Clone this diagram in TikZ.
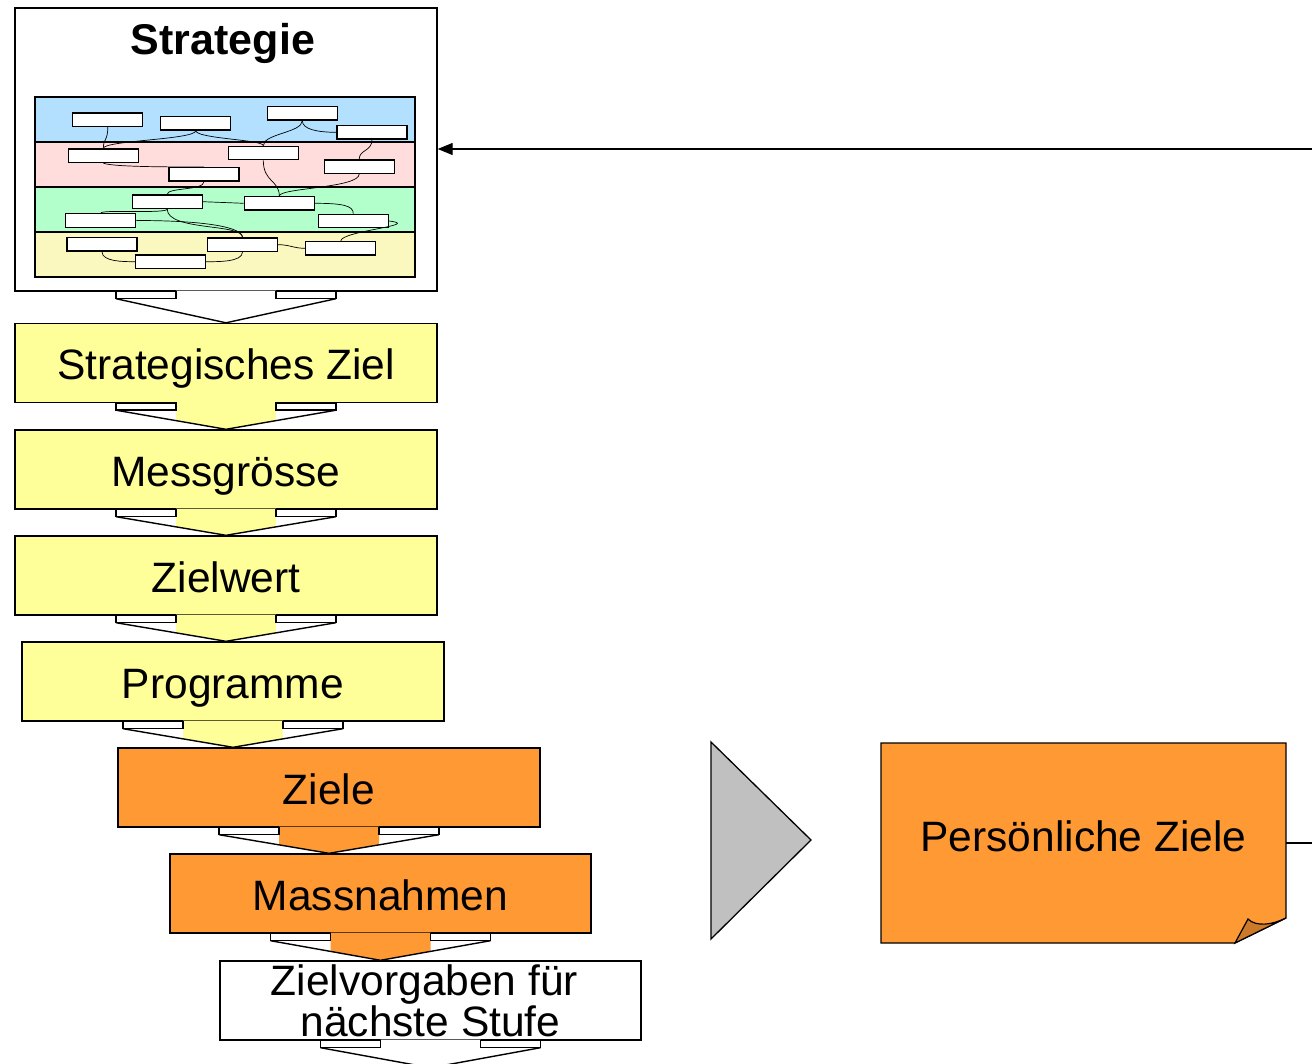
\documentclass[tikz,border=0pt]{standalone}
\usepackage{fontspec}
\setmainfont{Liberation Sans}
\usetikzlibrary{arrows.meta,calc}
\definecolor{boxyellow}{HTML}{FFFF99}
\definecolor{boxorange}{HTML}{FF9933}
\definecolor{foldorange}{HTML}{CC7A29}
\definecolor{bandblue}{RGB}{179,224,255}
\definecolor{bandpink}{RGB}{255,221,221}
\definecolor{bandgreen}{RGB}{179,255,204}
\definecolor{bandyellow}{RGB}{250,247,191}
\definecolor{trigray}{HTML}{C0C0C0}
\tikzset{
  stepbox/.style={draw=black, line width=1.4pt, minimum width=422pt, minimum height=79pt, inner sep=0pt, font=\fontsize{42.5}{39}\selectfont},
  oneline/.style={text height=34pt, text depth=0pt},
  ybox/.style={stepbox, oneline, fill=boxyellow},
  obox/.style={stepbox, oneline, fill=boxorange},
  wbox/.style={stepbox, fill=white},
  minirect/.style={draw=black, fill=white, line width=1.2pt, minimum width=70pt, minimum height=13.5pt, inner sep=0pt},
  link/.style={draw=black, line width=0.7pt},
  arrline/.style={draw=black, line width=1.4pt}
}
\newcommand\blockarrow[3]{%
  \path[fill=#3] let \p1=(#1.south), \p2=(#2.north) in
    (\x1-50pt,\y1+1pt) -- ($(\x1-110pt,\y1-7pt)!0.5455!(\x1,\y2)$) -- (\x1,\y2)
    -- ($(\x1+110pt,\y1-7pt)!0.5455!(\x1,\y2)$) -- (\x1+50pt,\y1+1pt) -- cycle;
  \draw[arrline, line join=miter] let \p1=(#1.south), \p2=(#2.north) in
    (\x1-110pt,\y1-7pt) -- (\x1,\y2) -- (\x1+110pt,\y1-7pt);
  \draw[arrline, fill=white] let \p1=(#1.south) in
    (\x1-110pt,\y1) rectangle (\x1-50pt,\y1-7pt)
    (\x1+50pt,\y1) rectangle (\x1+110pt,\y1-7pt);
}
\begin{document}
\begin{tikzpicture}[x=1pt,y=-1pt]
\useasboundingbox (0,0) rectangle (1312,1064);
\clip (0,0) rectangle (1312,1064);
\fill[white] (0,0) rectangle (1312,1064);

% Strategie box
\node[draw=black, fill=white, line width=1.4pt, minimum width=422pt, minimum height=283pt, inner sep=0pt] (strat) at (226,149.5) {};
\node[font=\fontsize{43}{43}\selectfont\bfseries, inner sep=0pt] (strattitle) at (223,43.8) {Strategie};
\fill[bandblue] (35,97) rectangle (415,142);
\fill[bandpink] (35,142) rectangle (415,187);
\fill[bandgreen] (35,187) rectangle (415,232);
\fill[bandyellow] (35,232) rectangle (415,277);
\draw[line width=1.6pt] (35,97) rectangle (415,277);
\draw[line width=1.6pt] (35,142) -- (415,142) (35,187) -- (415,187) (35,232) -- (415,232);

% small rectangles
\node[minirect] (r1) at (107.8,119.7) {};
\node[minirect] (r2) at (195.8,123.3) {};
\node[minirect] (r3) at (302.3,113.3) {};
\node[minirect] (r4) at (372,132.3) {};
\node[minirect] (r5) at (103.3,155.8) {};
\node[minirect] (r6) at (263.3,153) {};
\node[minirect] (r7) at (359.2,166.7) {};
\node[minirect] (r8) at (204,174.3) {};
\node[minirect] (r9) at (167.2,201.7) {};
\node[minirect] (r10) at (279.3,203.3) {};
\node[minirect] (r11) at (100.8,220.5) {};
\node[minirect] (r12) at (353.3,221) {};
\node[minirect] (r13) at (102,244.3) {};
\node[minirect] (r14) at (242.5,244.7) {};
\node[minirect] (r15) at (340.8,248.3) {};
\node[minirect] (r16) at (170.5,261.7) {};

% links between small rectangles
\draw[link] (r1.south) .. controls +(0,14) and +(0,-10) .. (r5.north);
\draw[link] (r2.south) .. controls +(0,9) and +(0,-8) .. (r5.north);
\draw[link] (r2.south) .. controls +(0,8) and +(0,-6) .. (r6.north);
\draw[link] (r3.south) .. controls +(0,12) and +(0,-12) .. (r6.north);
\draw[link] (r3.south) .. controls +(0,9) and +(-18,0) .. (r4.west);
\draw[link] (r4.south) .. controls +(0,12) and +(0,-10) .. (r7.north);
\draw[link] (r5.south) .. controls +(10,4) and +(-30,0) .. (r8.north);
\draw[link] (r6.south) .. controls +(0,22) and +(0,-16) .. (r10.north);
\draw[link] (r7.south) .. controls +(0,14) and +(0,-8) .. (r10.north);
\draw[link] (r8.south) .. controls +(0,9) and +(0,-7) .. (r9.north);
\draw[link] (r9.east) .. controls +(20,0) and +(-20,0) .. (r10.west);
\draw[link] (r9.south) .. controls +(0,5) and +(0,-4) .. (r11.north);
\draw[link] (r9.south) .. controls +(0,22) and +(0,-14) .. (r14.north);
\draw[link] (r11.east) .. controls +(70,0) and +(0,-10) .. (r14.north);
\draw[link] (r10.east) .. controls +(28,0) and +(0,-8) .. (r12.north);
\draw[link] (r12.east) .. controls +(35,4) and +(0,-10) .. (r15.north);
\draw[link] (r14.east) .. controls +(12,0) and +(-12,0) .. (r15.west);
\draw[link] (r13.south) .. controls +(0,10) and +(-12,0) .. (r16.west);
\draw[link] (r14.south) .. controls +(0,10) and +(12,0) .. (r16.east);

% step boxes
\node[ybox] (sz) at (226,363) {Strategisches Ziel};
\node[ybox] (mg) at (226,469.5) {Messgrösse};
\node[ybox] (zw) at (226,575.5) {Zielwert};
\node[ybox] (pg) at (233,681.5) {Programme};
\node[obox] (zi) at (329,787.5) {Ziele};
\node[obox, minimum width=421pt] (mn) at (380.5,893.5) {Massnahmen};
\node[wbox, minimum width=421pt, align=center] (zv) at (430.5,1000.5) {Zielvorgaben für\hspace*{12pt}\\nächste Stufe};
\node[inner sep=0pt, minimum size=0pt] (endtip) at (430,1068) {};

% block arrows
\blockarrow{strat}{sz}{white}
\blockarrow{sz}{mg}{boxyellow}
\blockarrow{mg}{zw}{boxyellow}
\blockarrow{zw}{pg}{boxyellow}
\blockarrow{pg}{zi}{boxyellow}
\blockarrow{zi}{mn}{boxorange}
\blockarrow{mn}{zv}{boxorange}
\blockarrow{zv}{endtip}{white}

% gray triangle
\draw[fill=trigray, line width=1.3pt, line join=miter] (711,742) -- (711,939) -- (811,840) -- cycle;

% note with folded corner
\draw[fill=boxorange, line width=1.3pt] (881,743) -- (1286,743) -- (1286,918) -- (1235,943) -- (881,943) -- cycle;
\draw[fill=foldorange, line width=1.2pt] (1235,943) -- (1248,919) .. controls (1256,927) and (1272,925) .. (1286,918) -- cycle;
\node[minimum width=405pt, minimum height=200pt, inner sep=0pt] (note) at (1083.5,843) {};
\node[inner sep=0pt, font=\fontsize{42.5}{42}\selectfont] (notetext) at (1083.5,836) {Persönliche Ziele};

% feedback lines
\coordinate (fbin) at (1312,149);
\coordinate (fbout) at (1312,843);
\draw[line width=1.2pt, -{Triangle[length=15pt,width=12pt]}] (fbin) -- (fbin -| strat.east);
\draw[line width=1.2pt] (note.east) -- (fbout);
\end{tikzpicture}
\end{document}
